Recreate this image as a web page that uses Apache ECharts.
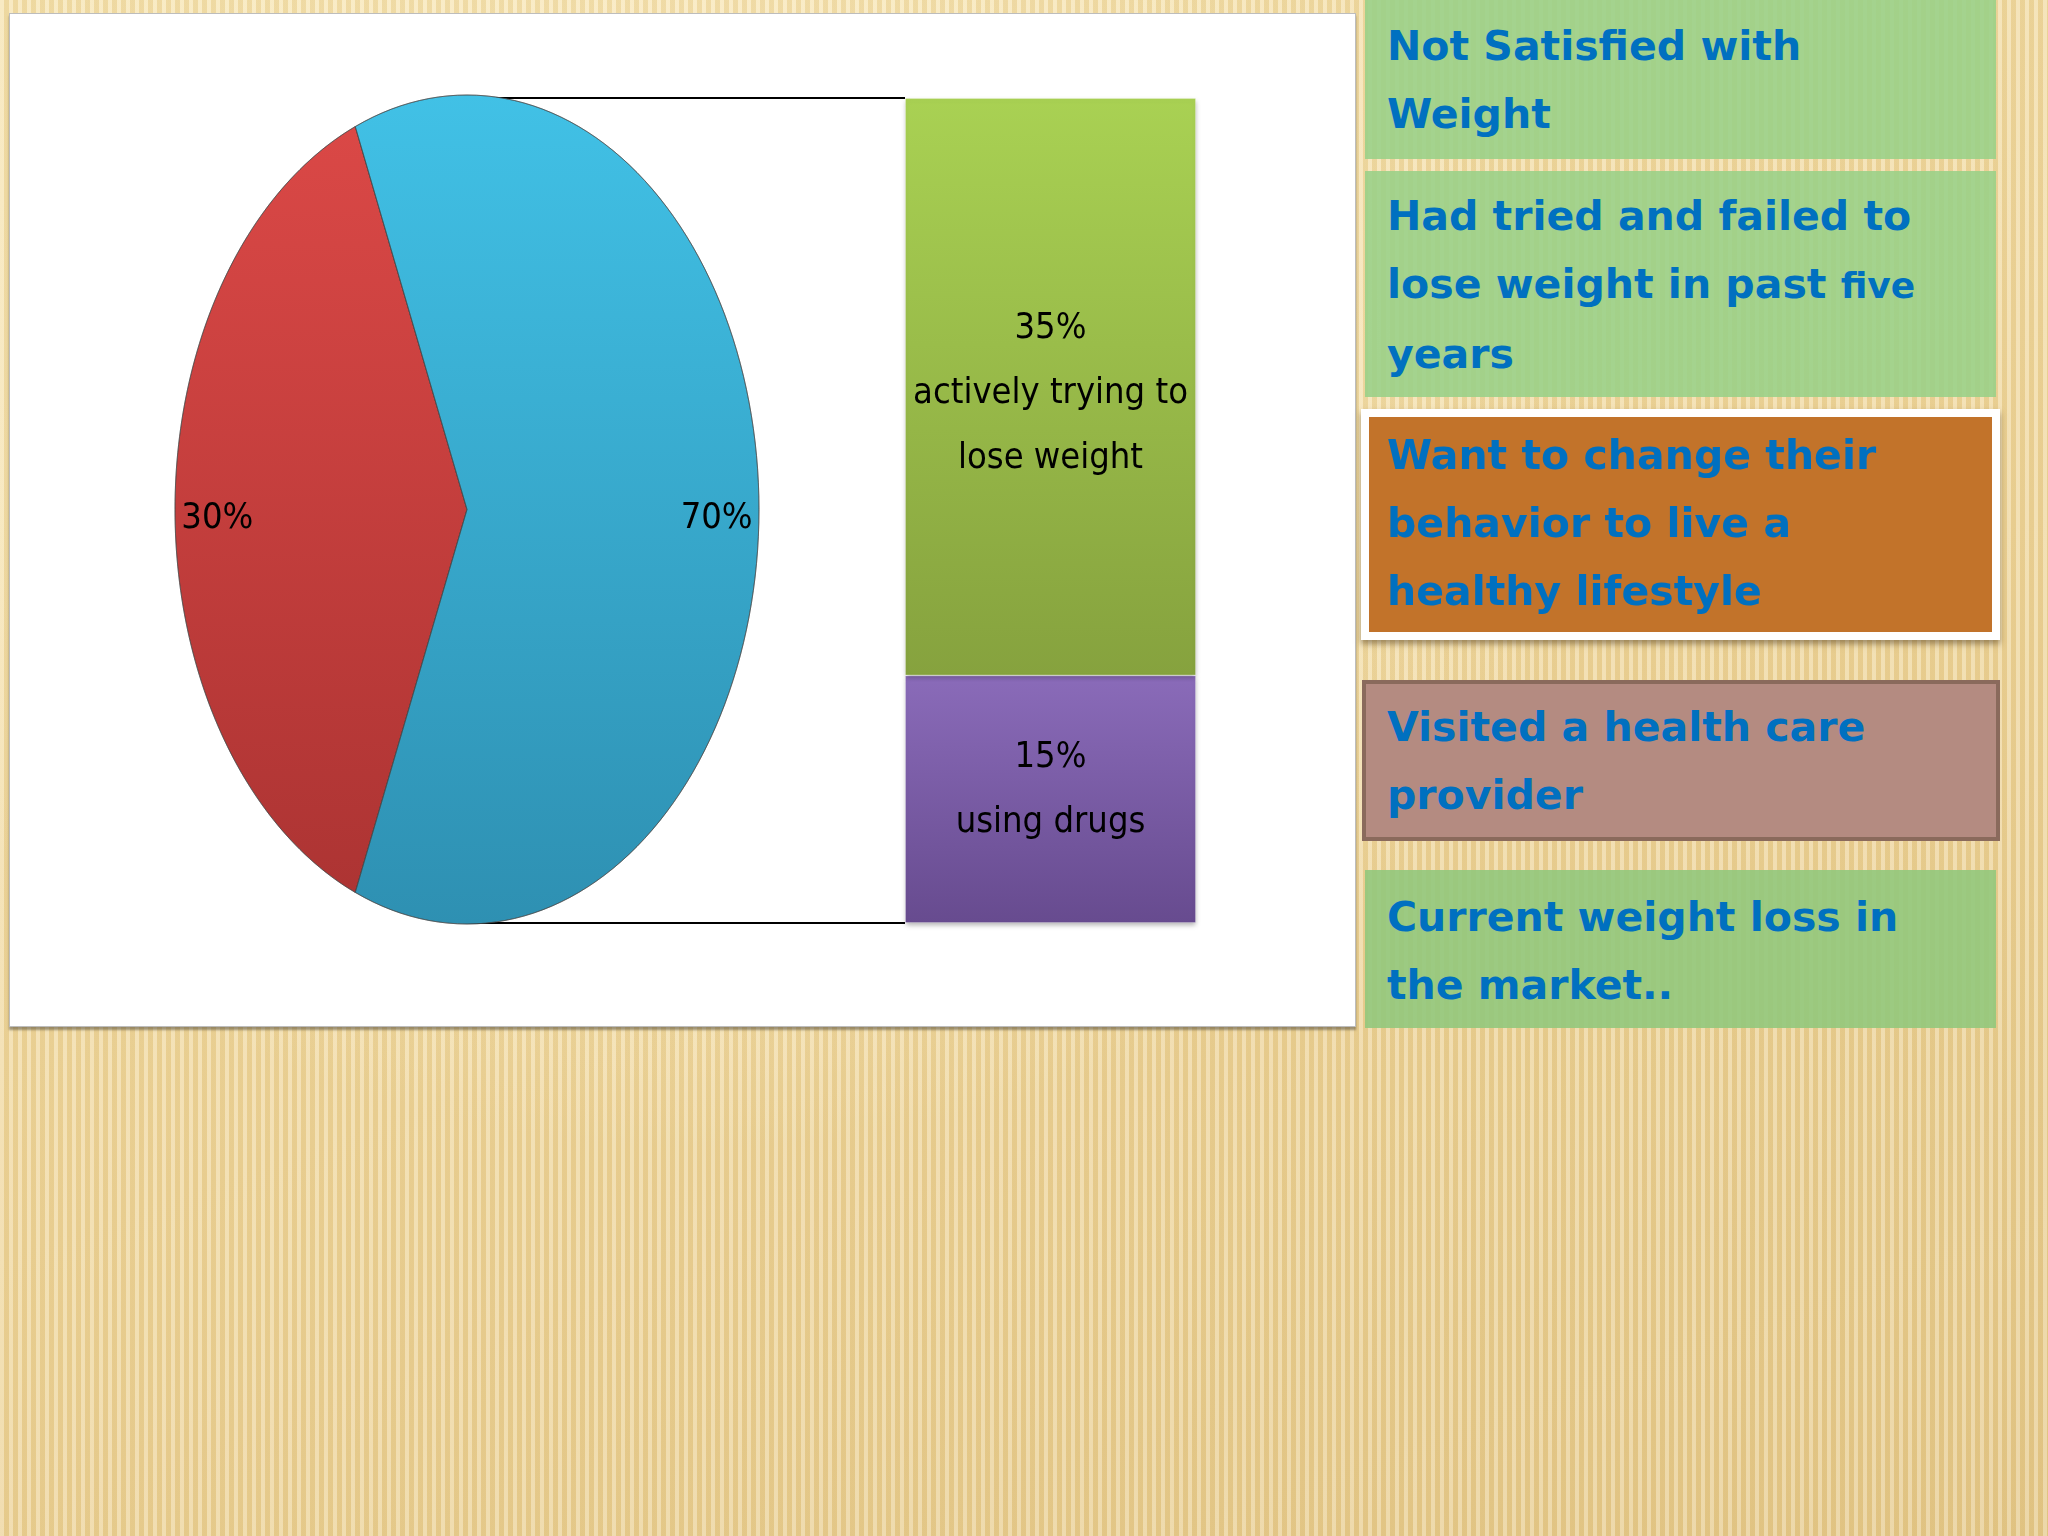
<!DOCTYPE html>
<html>
<head>
<meta charset="utf-8">
<script src="https://cdn.jsdelivr.net/npm/echarts@6/dist/echarts.min.js"></script>
<style>
html, body { margin: 0; padding: 0; width: 2048px; height: 1536px; overflow: hidden; }
body {
	background:
		repeating-linear-gradient(90deg, rgba(255,255,255,0.26) 0 4px, rgba(180,140,60,0.12) 4px 9px),
		radial-gradient(ellipse 900px 700px at 700px 450px, rgba(253,240,200,0.9) 0%, rgba(253,240,200,0) 100%),
		linear-gradient(160deg, #f6e3ae 0%, #efd69b 55%, #e6ca8b 100%);
}
#panel {
	position: absolute; left: 9px; top: 13px; width: 1345px; height: 1012px;
	background: #fff; border: 1px solid #bdbdbd; box-shadow: 0 3px 2px rgba(90, 80, 60, 0.55);
}
#chart { width: 100%; height: 100%; }
.box {
	position: absolute; box-sizing: border-box;
	font-family: "DejaVu Sans", Verdana, sans-serif; font-weight: bold;
	font-size: 41px; line-height: 68px; color: #0070c0;
}
.green { left: 1365px; width: 631px; padding-left: 22px; background: rgba(152, 208, 136, 0.88); }
.small { font-size: 36px; }
</style>
</head>
<body>
<div id="panel"><div id="chart"></div></div>

<div class="box green" style="top:0; height:159px; padding-top:12px;">Not Satisfied with<br>Weight</div>
<div class="box green" style="top:171px; height:226px; padding-top:11px;">Had tried and failed to<br>lose weight in past <span class="small">five</span><br>years</div>
<div class="box" style="left:1361px; top:409px; width:639px; height:231px; padding:4px 0 0 18px; background:#c2732a; border:8px solid #fff; box-shadow:0 4px 6px rgba(80,60,30,0.5);">Want to change their<br>behavior to live a<br>healthy lifestyle</div>
<div class="box" style="left:1362px; top:680px; width:638px; height:161px; padding:9px 0 0 21px; background:#b48b81; border:4px solid #8a6a5c;">Visited a health care<br>provider</div>
<div class="box green" style="top:870px; height:158px; padding-top:13px; background:rgba(146, 200, 124, 0.9);">Current weight loss in<br>the market..</div>

<script>
// 饼图数据：红色扇区 + 其余部分（由右侧柱子汇总）
const pieNames = ['Not trying', 'Trying to lose weight'];
const pieLabels = ['30%', '70%'];
const redValue = 30;
// 柱子数据（自下而上）
const barCategories = ['Trying'];
const barNames = ['using drugs', 'actively trying to lose weight'];
const barValues = [15, 35];
const barLabels = ['15%\nusing drugs', '35%\nactively trying to\nlose weight'];

const otherValue = barValues.reduce((a, b) => a + b, 0);
const pieValues = [redValue, otherValue];
const pieTotal = pieValues.reduce((a, b) => a + b, 0);

const labelFont = '"Liberation Sans Narrow", "DejaVu Sans Condensed", "Roboto Condensed", "Liberation Sans", sans-serif';
const labelSize = 36;

const pieColors = [
	['#da4846', '#ad3433'],
	['#41c1e6', '#2e90b2'],
];
const barColors = [
	['#8a6bb9', '#674b8f'],
	['#a9d153', '#86a23e'],
];
const barLabelShift = [-9, 7];

// 红色扇区居左（270°），其余顺时针
const startDeg = 270 - pieValues[0] / pieTotal * 180;

function renderSlice(params, api) {
	let i = params.dataIndex;
	let before = 0;
	for (let k = 0; k < i; k++) before += pieValues[k];
	let a0 = startDeg + before / pieTotal * 360;
	let a1 = a0 + pieValues[i] / pieTotal * 360;
	let pts = [api.coord([0, 0])];
	let n = 120;
	for (let k = 0; k <= n; k++) {
		let a = (a0 + (a1 - a0) * k / n) * Math.PI / 180;
		pts.push(api.coord([Math.sin(a), Math.cos(a)]));
	}
	let mid = (a0 + a1) / 2 * Math.PI / 180;
	let lp = api.coord([0.855 * Math.sin(mid), 0.855 * Math.cos(mid)]);
	return {
		type: 'group',
		children: [
			{
				type: 'polygon',
				shape: { points: pts },
				style: {
					fill: new echarts.graphic.LinearGradient(0, 0, 0, 1, [
						{ offset: 0, color: pieColors[i][0] },
						{ offset: 1, color: pieColors[i][1] },
					]),
					stroke: 'rgba(70,70,70,0.55)',
					lineWidth: 1,
				},
			},
			{
				type: 'text',
				x: lp[0],
				y: lp[1] + 9,
				style: {
					text: pieLabels[i],
					fill: '#000',
					fontSize: labelSize,
					fontFamily: labelFont,
					align: 'center',
					verticalAlign: 'middle',
				},
			},
		],
	};
}

const chart = echarts.init(document.getElementById('chart'));

const option = {
	animation: false,
	grid: [
		{ left: 165, top: 81, width: 584, height: 829 },
		{ left: 895, top: 84, width: 291, height: 825 },
	],
	xAxis: [
		{ gridIndex: 0, type: 'value', min: -1, max: 1, show: false },
		{ gridIndex: 1, type: 'category', data: barCategories, show: false },
	],
	yAxis: [
		{ gridIndex: 0, type: 'value', min: -1, max: 1, show: false },
		{ gridIndex: 1, type: 'value', min: 0, max: otherValue, show: false },
	],
	series: [
		{
			type: 'custom',
			name: 'pie',
			xAxisIndex: 0,
			yAxisIndex: 0,
			clip: false,
			renderItem: renderSlice,
			data: pieValues.map((v, i) => ({ name: pieNames[i], value: [0, 0, v] })),
		},
	].concat(barValues.map((v, i) => ({
		type: 'bar',
		name: barNames[i],
		xAxisIndex: 1,
		yAxisIndex: 1,
		stack: 'other',
		barWidth: '100%',
		data: [v],
		itemStyle: {
			color: new echarts.graphic.LinearGradient(0, 0, 0, 1, [
				{ offset: 0, color: barColors[i][0] },
				{ offset: 1, color: barColors[i][1] },
			]),
			borderColor: 'rgba(255,255,255,0.25)',
			borderWidth: 1,
			shadowColor: 'rgba(0,0,0,0.3)',
			shadowBlur: 5,
			shadowOffsetY: 2,
		},
		label: {
			show: true,
			position: 'inside',
			offset: [0, barLabelShift[i]],
			formatter: barLabels[i],
			color: '#000',
			fontSize: labelSize,
			lineHeight: 65,
			fontFamily: labelFont,
		},
	}))),
};
chart.setOption(option);

// 连接线：饼图顶部/底部 -> 柱子左上/左下角
let bandW = chart.getModel().getComponent('xAxis', 1).axis.getBandWidth();
let barTop = chart.convertToPixel({ xAxisIndex: 1, yAxisIndex: 1 }, [0, otherValue]);
let barBot = chart.convertToPixel({ xAxisIndex: 1, yAxisIndex: 1 }, [0, 0]);
let pieTop = chart.convertToPixel({ xAxisIndex: 0, yAxisIndex: 0 }, [0, 1]);
let pieBot = chart.convertToPixel({ xAxisIndex: 0, yAxisIndex: 0 }, [0, -1]);
let barLeft = barTop[0] - bandW / 2;
chart.setOption({
	graphic: [
		{ type: 'line', z: -1, shape: { x1: pieTop[0], y1: barTop[1], x2: barLeft, y2: barTop[1] }, style: { stroke: '#000', lineWidth: 2 } },
		{ type: 'line', z: -1, shape: { x1: pieBot[0], y1: barBot[1], x2: barLeft, y2: barBot[1] }, style: { stroke: '#000', lineWidth: 2 } },
	],
});
</script>
</body>
</html>
